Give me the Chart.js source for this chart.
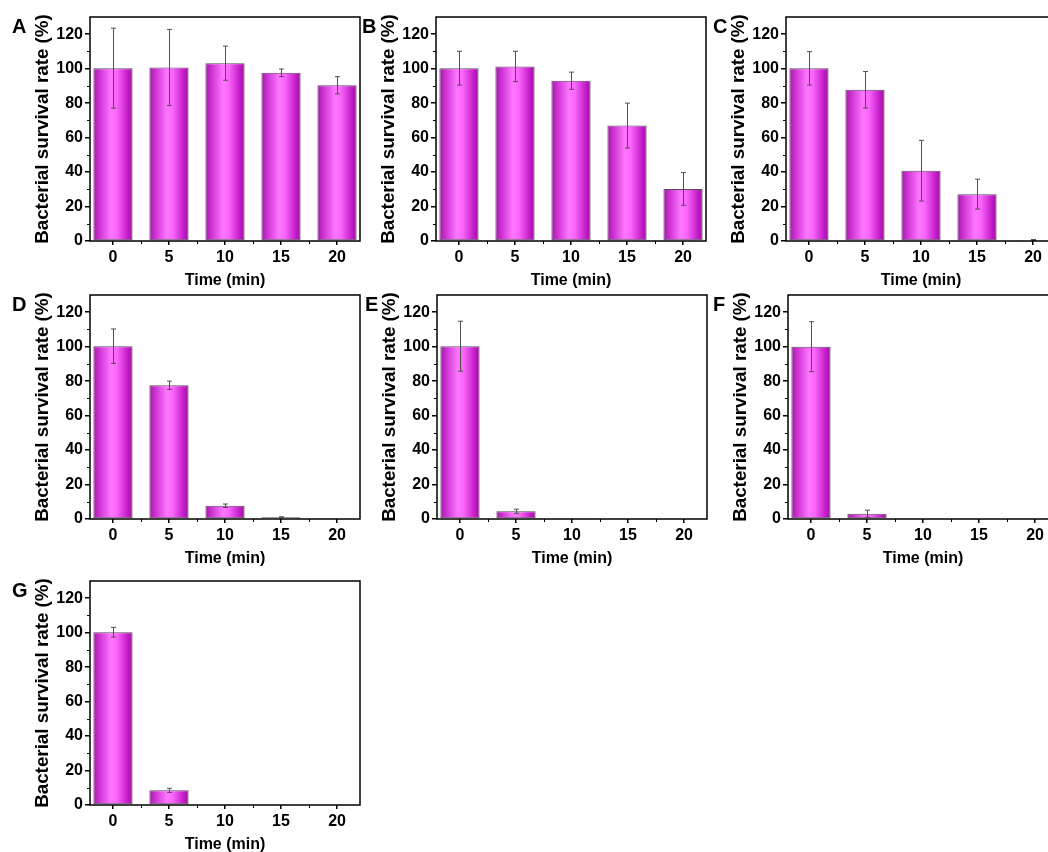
<!DOCTYPE html>
<html>
<head>
<meta charset="utf-8">
<title>Bacterial survival rate</title>
<script src="https://cdn.jsdelivr.net/npm/chart.js@4.4.1/dist/chart.umd.min.js"></script>
<style>
    html, body { margin: 0; padding: 0; background: #fff; }
    #figure { position: relative; width: 1048px; height: 852px; overflow: hidden; }
    #figure canvas { position: absolute; }
</style>
</head>
<body>
<div id="figure"></div>
<script>
// data
var times = [0, 5, 10, 15, 20];
var yTicks = [0, 20, 40, 60, 80, 100, 120];
var yMinorTicks = [10, 30, 50, 70, 90, 110];
var xMinorTicks = [2.5, 7.5, 12.5, 17.5];

var survivalA = [100.3, 100.7, 103.2, 97.6, 90.4];
var errorA    = [23.2, 22.1, 9.9, 2.2, 5.0];
var survivalB = [100.3, 101.3, 93.0, 67.0, 30.2];
var errorB    = [9.8, 8.8, 5.0, 13.0, 9.5];
var survivalC = [100.2, 87.8, 40.8, 27.2, 0.6];
var errorC    = [9.7, 10.6, 17.6, 8.7, 0.3];
var survivalD = [100.3, 77.6, 7.7, 1.0, 0];
var errorD    = [10.0, 2.4, 1.0, 0.3, 0];
var survivalE = [100.3, 4.5, 0.6, 0, 0];
var errorE    = [14.5, 1.2, 0, 0, 0];
var survivalF = [100.0, 3.1, 0, 0, 0];
var errorF    = [14.5, 2.0, 0, 0, 0];
var survivalG = [100.3, 8.5, 0, 0, 0];
var errorG    = [2.8, 1.2, 0, 0, 0];

var xLabel = 'Time (min)';
var yLabel = 'Bacterial survival rate (%)';

// panel placement (canvas top-left corner, letter offset from y axis)
var panels = [
    { letter: 'A', values: survivalA, errors: errorA, left: 0,   top: 0,   letterDx: -78 },
    { letter: 'B', values: survivalB, errors: errorB, left: 346, top: 0,   letterDx: -74 },
    { letter: 'C', values: survivalC, errors: errorC, left: 696, top: 0,   letterDx: -73 },
    { letter: 'D', values: survivalD, errors: errorD, left: 0,   top: 278, letterDx: -78 },
    { letter: 'E', values: survivalE, errors: errorE, left: 347, top: 278, letterDx: -72 },
    { letter: 'F', values: survivalF, errors: errorF, left: 698, top: 278, letterDx: -75 },
    { letter: 'G', values: survivalG, errors: errorG, left: 0,   top: 564, letterDx: -78 }
];

var FONT = "'Liberation Sans', Arial, sans-serif";
var CANVAS_W = 364, CANVAS_H = 291;
var BAR_RATIO = 0.7;

/* bar fill: horizontal magenta gradient per bar */
function barFill(ctx) {
    var fallback = '#e048e8';
    var chart = ctx.chart;
    var xs = chart.scales && chart.scales.x;
    if (ctx.type !== 'data' || !xs || !ctx.raw) return fallback;
    var cx = xs.getPixelForValue(ctx.raw.x);
    var half = Math.abs(xs.getPixelForValue(times[1]) - xs.getPixelForValue(times[0])) * BAR_RATIO / 2;
    if (!isFinite(cx) || !isFinite(half) || half <= 0) return fallback;
    var g = chart.ctx.createLinearGradient(cx - half, 0, cx + half, 0);
    g.addColorStop(0, '#a416a8');
    g.addColorStop(0.2, '#d63ddb');
    g.addColorStop(0.45, '#ff78ff');
    g.addColorStop(0.6, '#f965f9');
    g.addColorStop(0.85, '#c822cc');
    g.addColorStop(1, '#a00aa6');
    return g;
}

var panelDecor = {
    id: 'panelDecor',
    afterDatasetsDraw: function(chart, args, opts) {
        // error bars
        var c = chart.ctx;
        var ys = chart.scales.y;
        var meta = chart.getDatasetMeta(0);
        c.save();
        c.strokeStyle = '#505050';
        c.lineWidth = 1;
        for (var i = 0; i < opts.errors.length; i++) {
            var e = opts.errors[i];
            if (!e) continue;
            var v = opts.values[i];
            var x = Math.round(meta.data[i].x) + 0.5;
            var y1 = ys.getPixelForValue(v + e);
            var y2 = ys.getPixelForValue(v - e);
            c.beginPath();
            c.moveTo(x, y1); c.lineTo(x, y2);
            c.moveTo(x - 2.5, y1); c.lineTo(x + 2.5, y1);
            c.moveTo(x - 2.5, y2); c.lineTo(x + 2.5, y2);
            c.stroke();
        }
        c.restore();
    },
    afterDraw: function(chart, args, opts) {
        var c = chart.ctx;
        var a = chart.chartArea;
        var xs = chart.scales.x, ys = chart.scales.y;
        c.save();
        c.strokeStyle = '#000';
        c.lineWidth = 1.5;
        c.strokeRect(a.left, a.top, a.right - a.left, a.bottom - a.top);
        // minor ticks
        c.lineWidth = 1;
        c.beginPath();
        yMinorTicks.forEach(function(v) {
            var y = Math.round(ys.getPixelForValue(v)) + 0.5;
            c.moveTo(a.left - 3, y); c.lineTo(a.left, y);
        });
        xMinorTicks.forEach(function(v) {
            var x = Math.round(xs.getPixelForValue(v)) + 0.5;
            c.moveTo(x, a.bottom); c.lineTo(x, a.bottom + 3);
        });
        c.stroke();
        // panel letter
        c.fillStyle = '#000';
        c.font = 'bold 20px ' + FONT;
        c.textBaseline = 'alphabetic';
        c.fillText(opts.letter, a.left + opts.letterDx, a.top + 16);
        c.restore();
    }
};

function makePanel(p) {
    var canvas = document.createElement('canvas');
    canvas.width = CANVAS_W;
    canvas.height = CANVAS_H;
    canvas.style.left = p.left + 'px';
    canvas.style.top = p.top + 'px';
    document.getElementById('figure').appendChild(canvas);

    var points = times.map(function(t, i) { return { x: t, y: p.values[i] }; });

    return new Chart(canvas, {
        type: 'bar',
        data: {
            datasets: [{
                data: points,
                backgroundColor: barFill,
                borderColor: '#5b4a5c',
                borderWidth: 1,
                borderSkipped: false,
                barPercentage: BAR_RATIO,
                categoryPercentage: 1
            }]
        },
        options: {
            responsive: false,
            animation: false,
            devicePixelRatio: 1,
            layout: { padding: { left: 0, top: 17, right: 4, bottom: 0 } },
            plugins: {
                legend: { display: false },
                tooltip: { enabled: false },
                panelDecor: { letter: p.letter, letterDx: p.letterDx, values: p.values, errors: p.errors }
            },
            scales: {
                x: {
                    type: 'linear',
                    offset: false,
                    min: -2.05,
                    max: 22.05,
                    afterBuildTicks: function(s) { s.ticks = times.map(function(t) { return { value: t }; }); },
                    afterFit: function(s) { s.height = 50; },
                    grid: { offset: false, drawOnChartArea: false, drawTicks: true, tickLength: 4, color: '#000', lineWidth: 1.5 },
                    border: { display: false },
                    ticks: {
                        color: '#000',
                        padding: 3,
                        maxRotation: 0,
                        font: { family: FONT, size: 16, weight: 'bold' },
                        callback: function(v) { return String(v); }
                    },
                    title: {
                        display: true,
                        text: xLabel,
                        color: '#000',
                        padding: { top: 0, bottom: 1 },
                        font: { family: FONT, size: 16, weight: 'bold' }
                    }
                },
                y: {
                    min: 0,
                    max: 130,
                    afterBuildTicks: function(s) { s.ticks = yTicks.map(function(t) { return { value: t }; }); },
                    afterFit: function(s) { s.width = 90; },
                    grid: { drawOnChartArea: false, drawTicks: true, tickLength: 5, color: '#000', lineWidth: 1.5 },
                    border: { display: false },
                    ticks: {
                        color: '#000',
                        padding: 2,
                        font: { family: FONT, size: 16, weight: 'bold' }
                    },
                    title: {
                        display: true,
                        text: yLabel,
                        color: '#000',
                        padding: { top: 32, bottom: 0 },
                        font: { family: FONT, size: 18.8, weight: 'bold' }
                    }
                }
            }
        },
        plugins: [panelDecor]
    });
}

panels.forEach(makePanel);
</script>
</body>
</html>
